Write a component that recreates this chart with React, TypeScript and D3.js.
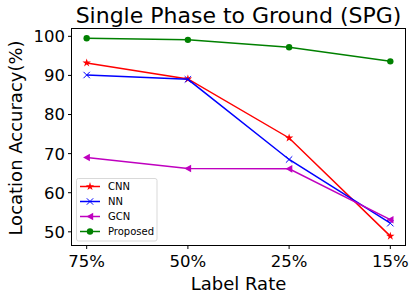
import React from "react";
import * as d3 from "d3";

const categories = ["75%", "50%", "25%", "15%"];
const cnn = [93.2, 89.1, 74.0, 48.9];
const nn = [90.1, 89.0, 68.5, 52.2];
const gcn = [69.0, 66.2, 66.1, 53.1];
const proposed = [99.5, 99.1, 97.2, 93.6];
const yTicks = [50, 60, 70, 80, 90, 100];

const series = [
  { name: "CNN", values: cnn, color: "#ff0000", marker: "star" },
  { name: "NN", values: nn, color: "#0000ff", marker: "x" },
  { name: "GCN", values: gcn, color: "#bf00bf", marker: "tri" },
  { name: "Proposed", values: proposed, color: "#008000", marker: "circle" },
];

const W = 417, H = 300;
const L = 71.5, R = 405.5, T = 28.5, B = 245.5;

function Marker({ type, x, y, color }: { type: string; x: number; y: number; color: string }) {
  if (type === "circle") return <circle cx={x} cy={y} r={3.2} fill={color} />;
  if (type === "x")
    return (
      <path d={`M${x - 3.2},${y - 3.2}L${x + 3.2},${y + 3.2}M${x - 3.2},${y + 3.2}L${x + 3.2},${y - 3.2}`} stroke={color} strokeWidth={1} fill="none" />
    );
  if (type === "tri")
    return <path d={`M${x - 3.6},${y}L${x + 3.2},${y - 3.8}L${x + 3.2},${y + 3.8}Z`} fill={color} />;
  const sym = d3.symbol().type(d3.symbolStar).size(22)();
  return <path d={sym || ""} transform={`translate(${x},${y})`} fill={color} />;
}

export default function App() {
  const x = d3.scaleLinear().domain([-0.15, 3.15]).range([L, R]);
  const y = d3.scaleLinear().domain([46.5, 102]).range([B, T]);
  const line = d3.line<number>().x((_, i) => x(i)).y((d) => y(d));
  const font = "DejaVu Sans, sans-serif";
  return (
    <svg width={W} height={H} style={{ position: "absolute", left: 0, top: 0 }} fontFamily={font}>
      <rect width={W} height={H} fill="#fff" />
      <text x={(L + R) / 2} y={23} textAnchor="middle" fontSize={22} fill="#000">
        Single Phase to Ground (SPG)
      </text>
      {series.map((s) => (
        <g key={s.name}>
          <path d={line(s.values) || ""} fill="none" stroke={s.color} strokeWidth={1.5} />
          {s.values.map((v, i) => (
            <Marker key={i} type={s.marker} x={x(i)} y={y(v)} color={s.color} />
          ))}
        </g>
      ))}
      <rect x={L} y={T} width={R - L} height={B - T} fill="none" stroke="#000" strokeWidth={1} />
      {yTicks.map((t) => (
        <g key={t}>
          <line x1={L - 3.5} x2={L} y1={y(t)} y2={y(t)} stroke="#000" />
          <text x={L - 6.5} y={y(t)} dy="0.36em" textAnchor="end" fontSize={16.5} fill="#000">
            {t}
          </text>
        </g>
      ))}
      {categories.map((c, i) => (
        <g key={c}>
          <line x1={x(i)} x2={x(i)} y1={B} y2={B + 3.5} stroke="#000" />
          <text x={x(i)} y={B + 21} textAnchor="middle" fontSize={16.5} fill="#000">
            {c}
          </text>
        </g>
      ))}
      <text x={(L + R) / 2} y={290} textAnchor="middle" fontSize={18} fill="#000">
        Label Rate
      </text>
      <text transform={`translate(22,${(T + B) / 2 + 1}) rotate(-90)`} textAnchor="middle" fontSize={18} fill="#000">
        Location Accuracy(%)
      </text>
      <g>
        <rect x={76.5} y={178.5} width={80.5} height={62.5} rx={2} fill="#fff" fillOpacity={0.8} stroke="#d9d9d9" />
        {series.map((s, i) => {
          const ly = 186.5 + i * 15;
          return (
            <g key={s.name}>
              <line x1={80} x2={100} y1={ly} y2={ly} stroke={s.color} strokeWidth={1.5} />
              <Marker type={s.marker} x={90} y={ly} color={s.color} />
              <text x={108} y={ly} dy="0.36em" fontSize={10} fill="#000">
                {s.name}
              </text>
            </g>
          );
        })}
      </g>
    </svg>
  );
}
